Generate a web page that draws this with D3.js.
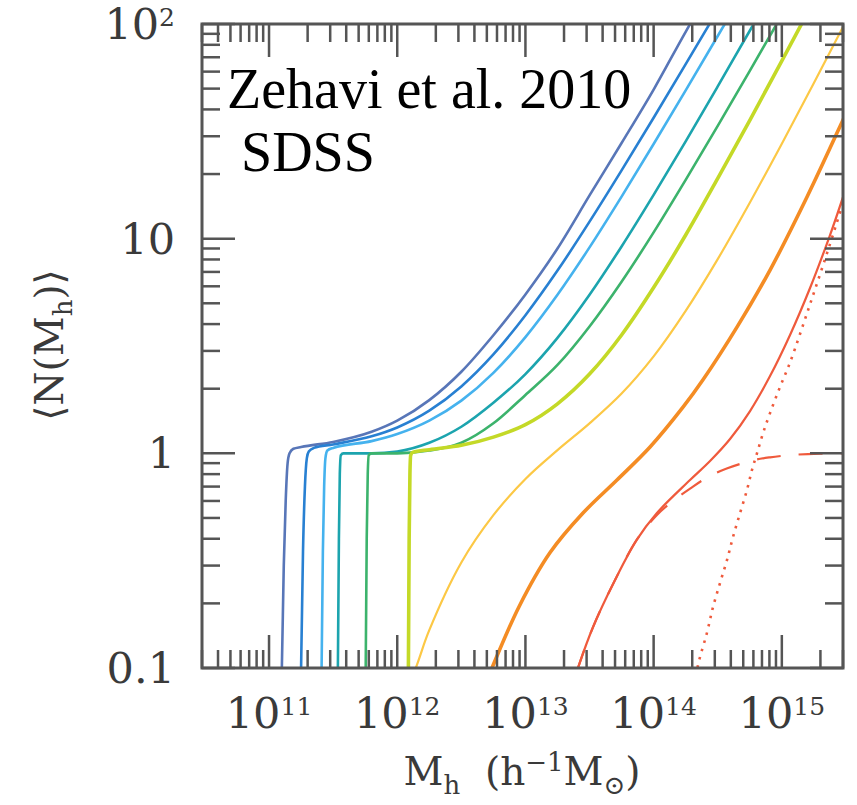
<!DOCTYPE html>
<html>
<head>
<meta charset="utf-8">
<script src="https://cdnjs.cloudflare.com/ajax/libs/d3/7.8.5/d3.min.js"></script>
<style>
  html, body { margin: 0; padding: 0; background: #ffffff; }
  svg { display: block; }
</style>
</head>
<body>
<div id="chart"></div>
<script>
// <N(Mh)>, pairs of [log10 Mh, N]
var hodM18 = [[11.08,0.05],[11.10,0.1],[11.115,0.3],[11.13,0.6],[11.145,0.9],[11.16,1.0],[11.19,1.05],[11.25,1.07],[11.5,1.13],[11.8,1.26],[12.0,1.42],[12.25,1.77],[12.5,2.40],[12.75,3.55],[13.0,5.5],[13.25,9.0],[13.5,15.9],[13.75,27.9],[14.0,49.5],[14.25,92],[14.5,165]];
var hodM185 = [[11.235,0.05],[11.25,0.1],[11.265,0.35],[11.28,0.7],[11.295,0.95],[11.31,1.02],[11.35,1.06],[11.5,1.10],[11.8,1.20],[12.0,1.32],[12.25,1.58],[12.5,2.05],[12.75,2.89],[13.0,4.40],[13.25,7.1],[13.5,12.0],[13.75,20.8],[14.0,36.6],[14.25,65],[14.5,116]];
var hodM19 = [[11.40,0.05],[11.41,0.1],[11.42,0.35],[11.43,0.7],[11.44,0.95],[11.455,1.03],[11.5,1.06],[11.8,1.14],[12.0,1.23],[12.25,1.42],[12.5,1.76],[12.75,2.37],[13.0,3.48],[13.25,5.48],[13.5,9.11],[13.75,15.7],[14.0,27.6],[14.25,49.1],[14.5,87.9],[14.75,158]];
var hodM195 = [[11.53,0.05],[11.537,0.1],[11.545,0.4],[11.552,0.8],[11.56,0.98],[11.58,1.0],[11.8,1.0],[12.0,1.02],[12.25,1.12],[12.5,1.33],[12.75,1.72],[13.0,2.34],[13.25,3.45],[13.5,5.48],[13.75,9.2],[14.0,16.0],[14.25,28.4],[14.5,51.2],[14.75,93],[15.0,168]];
var hodM20 = [[11.745,0.05],[11.754,0.1],[11.762,0.4],[11.77,0.8],[11.778,0.98],[11.80,1.0],[12.0,1.0],[12.25,1.03],[12.5,1.12],[12.75,1.38],[13.0,1.87],[13.25,2.58],[13.5,3.90],[13.75,6.30],[14.0,10.7],[14.25,18.8],[14.5,33.5],[14.75,60.5],[15.0,110]];
var hodM205 = [[12.08,0.05],[12.087,0.1],[12.093,0.4],[12.099,0.8],[12.105,0.98],[12.12,1.01],[12.25,1.04],[12.5,1.09],[12.75,1.19],[13.0,1.36],[13.25,1.70],[13.5,2.34],[13.75,3.56],[14.0,5.92],[14.25,10.4],[14.5,19.1],[14.75,35.6],[15.0,67.4],[15.25,128]];
var hodM21 = [[12.0,0.0575],[12.16,0.106],[12.25,0.15],[12.5,0.31],[12.75,0.515],[13.0,0.76],[13.25,1.035],[13.5,1.379],[13.75,1.899],[14.0,2.83],[14.25,4.61],[14.5,8.03],[14.75,14.7],[15.0,27.7],[15.25,53.1],[15.5,103]];
var hodM215 = [[12.6,0.062],[12.739,0.1],[12.95,0.193],[13.191,0.344],[13.449,0.527],[13.714,0.751],[13.972,1.07],[14.229,1.64],[14.385,2.2],[14.65,3.87],[14.908,7.14],[15.2,15.8],[15.477,35.7],[15.55,44.5]];
var hodM22 = [[13.3,0.062],[13.412,0.101],[13.529,0.156],[13.699,0.257],[13.868,0.395],[14.024,0.526],[14.284,0.751],[14.44,0.921],[14.596,1.166],[14.752,1.574],[14.908,2.29],[15.064,3.56],[15.22,5.89],[15.376,10.4],[15.477,15.6],[15.61,27.5]];
var cenM22 = [[13.3,0.062],[13.412,0.101],[13.529,0.156],[13.699,0.257],[13.868,0.395],[14.024,0.515],[14.15,0.6],[14.284,0.685],[14.424,0.776],[14.57,0.85],[14.776,0.928],[14.908,0.958],[15.1,0.985],[15.3,0.997],[15.55,1.0]];
var satM22 = [[14.30,0.07],[14.346,0.103],[14.416,0.146],[14.463,0.192],[14.518,0.249],[14.572,0.318],[14.619,0.407],[14.674,0.527],[14.728,0.675],[14.767,0.836],[14.806,1.0],[14.853,1.24],[14.908,1.54],[14.986,2.04],[15.064,2.65],[15.22,4.95],[15.376,9.45],[15.477,14.6],[15.55,19.5]];

var xTickPowers = [11, 12, 13, 14, 15];
var yTickValues = [0.1, 1, 10, 100];
var yTickText = ['0.1', '1', '10', '10'];
var yTickSup = ['', '', '', '2'];

;(function(){
var HodChart = {
	options : {
		width : 857,
		height : 805,
		plot : {left:202, right:843, top:24, bottom:668},
		xDomain : [3e10, 3e15],
		yDomain : [0.1, 100],
		frame : {color:'#555555', width:3},
		tick : {color:'#555555', width:2.5, major:33, minor:18},
		label : {font:'DejaVu Serif', size:43, supSize:25, color:'#3a3a3a'},
		title : {font:'DejaVu Serif', size:39, subSize:26, color:'#3a3a3a'},
		note : {font:'Liberation Serif', size:56, color:'#000000'},
		//曲線樣式, smooth = 用 catmullRom
		series : [
			{name:'hodM18',  color:'#5876b8', width:2.6},
			{name:'hodM185', color:'#2880d2', width:2.6},
			{name:'hodM19',  color:'#45b2ee', width:2.6},
			{name:'hodM195', color:'#1ca4ae', width:2.6},
			{name:'hodM20',  color:'#3cb36c', width:2.6},
			{name:'hodM205', color:'#c4d927', width:3.6},
			{name:'hodM21',  color:'#fcc845', width:2.2, smooth:true},
			{name:'hodM215', color:'#f48c24', width:3.6, smooth:true},
			{name:'hodM22',  color:'#ef5a3c', width:2.2, smooth:true},
			{name:'cenM22',  color:'#ef5a3c', width:2.2, smooth:true, dash:'24 18'},
			{name:'satM22',  color:'#ef5a3c', width:2.6, smooth:true, dash:'2.5 6'}
		]
	},
	data : {
		hodM18:hodM18, hodM185:hodM185, hodM19:hodM19, hodM195:hodM195, hodM20:hodM20,
		hodM205:hodM205, hodM21:hodM21, hodM215:hodM215, hodM22:hodM22, cenM22:cenM22, satM22:satM22
	},
	isMajor : function(v){
		var l = Math.log10(v);
		return Math.abs(l - Math.round(l)) < 1e-6;
	},
	renderCurves : function(svg, x, y, opt, self){
		var p = opt.plot;
		svg.append('clipPath')
		   .attr('id', 'plotClip')
		   .append('rect')
		   .attr('x', p.left)
		   .attr('y', p.top)
		   .attr('width', p.right - p.left)
		   .attr('height', p.bottom - p.top);

		var g = svg.append('g').attr('clip-path', 'url(#plotClip)');
		opt.series.forEach(function(s){
			var line = d3.line()
				.x(function(d){ return x(Math.pow(10, d[0])); })
				.y(function(d){ return y(d[1]); })
				.curve(s.smooth ? d3.curveCatmullRom.alpha(0.5) : d3.curveMonotoneX);
			var path = g.append('path')
				.attr('d', line(self.data[s.name]))
				.attr('fill', 'none')
				.attr('stroke', s.color)
				.attr('stroke-width', s.width)
				.attr('stroke-linejoin', 'round');
			if(s.dash){
				path.attr('stroke-dasharray', s.dash);
			}
		});
	},
	renderTicks : function(svg, x, y, opt, self){
		var p = opt.plot, t = opt.tick;
		var g = svg.append('g')
			.attr('stroke', t.color)
			.attr('stroke-width', t.width);
		var xt = x.ticks().filter(function(v){ return v >= opt.xDomain[0] && v <= opt.xDomain[1]; });
		var yt = y.ticks();
		//上下刻度
		xt.forEach(function(v){
			var len = self.isMajor(v) ? t.major : t.minor;
			var px = x(v);
			g.append('line').attr('x1', px).attr('x2', px).attr('y1', p.bottom).attr('y2', p.bottom - len);
			g.append('line').attr('x1', px).attr('x2', px).attr('y1', p.top).attr('y2', p.top + len);
		});
		//左右刻度
		yt.forEach(function(v){
			var len = self.isMajor(v) ? t.major : t.minor;
			var py = y(v);
			g.append('line').attr('x1', p.left).attr('x2', p.left + len).attr('y1', py).attr('y2', py);
			g.append('line').attr('x1', p.right).attr('x2', p.right - len).attr('y1', py).attr('y2', py);
		});
		//外框
		svg.append('rect')
		   .attr('x', p.left)
		   .attr('y', p.top)
		   .attr('width', p.right - p.left)
		   .attr('height', p.bottom - p.top)
		   .attr('fill', 'none')
		   .attr('stroke', opt.frame.color)
		   .attr('stroke-width', opt.frame.width);
	},
	renderLabels : function(svg, x, y, opt, self){
		var L = opt.label;
		xTickPowers.forEach(function(e){
			var t = svg.append('text')
				.attr('x', x(Math.pow(10, e)))
				.attr('y', 728)
				.attr('text-anchor', 'middle')
				.attr('font-family', L.font)
				.attr('font-size', L.size + 'px')
				.attr('fill', L.color);
			t.append('tspan').text('10');
			t.append('tspan').attr('dy', -13).attr('font-size', L.supSize + 'px').text(String(e));
		});
		yTickValues.forEach(function(v, i){
			var t = svg.append('text')
				.attr('x', 175)
				.attr('y', y(v) + 15)
				.attr('text-anchor', 'end')
				.attr('font-family', L.font)
				.attr('font-size', L.size + 'px')
				.attr('fill', L.color);
			t.append('tspan').text(yTickText[i]);
			if(yTickSup[i]){
				t.append('tspan').attr('dy', -13).attr('font-size', L.supSize + 'px').text(yTickSup[i]);
			}
		});

		//x 軸標題
		var T = opt.title;
		var xt = svg.append('text')
			.attr('x', 522)
			.attr('y', 785)
			.attr('text-anchor', 'middle')
			.attr('font-family', T.font)
			.attr('font-size', T.size + 'px')
			.attr('fill', T.color);
		xt.append('tspan').text('M');
		xt.append('tspan').attr('dy', 9).attr('font-size', T.subSize + 'px').text('h');
		xt.append('tspan').attr('dy', -9).text('\u00a0\u00a0(h');
		xt.append('tspan').attr('dy', -14).attr('font-size', T.subSize + 'px').text('\u22121');
		xt.append('tspan').attr('dy', 14).text('M');
		xt.append('tspan').attr('dy', 9).attr('font-size', T.subSize + 'px').text('\u2299');
		xt.append('tspan').attr('dy', -9).text(')');

		//y 軸標題
		var yt = svg.append('text')
			.attr('transform', 'translate(63,345) rotate(-90)')
			.attr('text-anchor', 'middle')
			.attr('font-family', T.font)
			.attr('font-size', T.size + 'px')
			.attr('fill', T.color);
		yt.append('tspan').text('\u27e8N(M');
		yt.append('tspan').attr('dy', 9).attr('font-size', T.subSize + 'px').text('h');
		yt.append('tspan').attr('dy', -9).text(')\u27e9');

		//註記
		var N = opt.note;
		svg.append('text')
		   .attr('x', 227)
		   .attr('y', 108)
		   .attr('font-family', N.font)
		   .attr('font-size', N.size + 'px')
		   .attr('fill', N.color)
		   .text('Zehavi et al. 2010');
		svg.append('text')
		   .attr('x', 241)
		   .attr('y', 171)
		   .attr('font-family', N.font)
		   .attr('font-size', N.size + 'px')
		   .attr('fill', N.color)
		   .text('SDSS');
	},
	draw : function(id){
		var opt = this.options;
		var svg = d3.select(id).append('svg')
			.attr('width', opt.width)
			.attr('height', opt.height)
			.attr('viewBox', '0 0 ' + opt.width + ' ' + opt.height);
		svg.append('rect')
		   .attr('width', opt.width)
		   .attr('height', opt.height)
		   .attr('fill', '#ffffff');
		var x = d3.scaleLog().domain(opt.xDomain).range([opt.plot.left, opt.plot.right]);
		var y = d3.scaleLog().domain(opt.yDomain).range([opt.plot.bottom, opt.plot.top]);
		this.renderCurves(svg, x, y, opt, this);
		this.renderTicks(svg, x, y, opt, this);
		this.renderLabels(svg, x, y, opt, this);
	}
};

HodChart.draw('#chart');
}).call(this);
</script>
</body>
</html>
